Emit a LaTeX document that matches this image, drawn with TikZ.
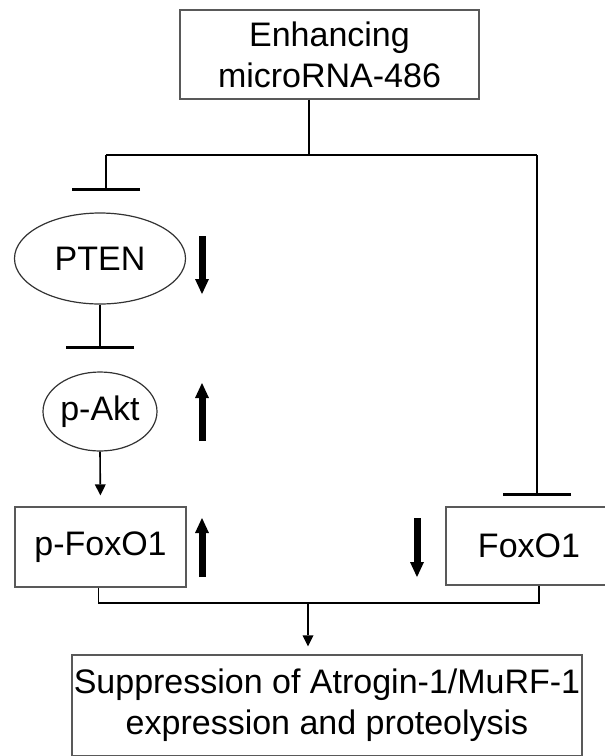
\documentclass[tikz,border=0pt]{standalone}
\usepackage{fontspec}
\setmainfont{Liberation Sans}
\usepackage{tikz}
\usetikzlibrary{arrows.meta,positioning,calc,shapes.geometric}

\begin{document}
\begin{tikzpicture}[
  x=1pt, y=-1pt,
  box/.style={draw=black!65, line width=1.2pt, rectangle, inner sep=0pt,
    font=\fontsize{34}{41}\selectfont, align=center},
  oval/.style={draw=black!80, line width=1.2pt, ellipse, inner sep=0pt,
    font=\fontsize{34}{41}\selectfont},
  link/.style={line width=2.6pt},
  thinlink/.style={line width=1.7pt},
  inhib/.style={line width=2.6pt, -{Bar[width=68pt,line width=2.6pt]}},
  act/.style={line width=1.6pt, -{Triangle[length=11pt,width=11pt,line width=0pt]}},
  trend/.style={line width=7pt, -{Triangle[length=15pt,width=14pt,line width=0pt]}}
]
\useasboundingbox (0,0) rectangle (605,756);
% nodes
\node[box, minimum width=299pt, minimum height=89pt] (mir) at (329.5,54.5) {Enhancing\\microRNA-486};
\node[oval, minimum width=171pt, minimum height=91pt] (pten) at (100,258.5) {PTEN};
\node[oval, minimum width=114pt, minimum height=79pt] (pakt) at (100,411.5) {p-Akt};
\node[box, minimum width=171pt, minimum height=80pt] (pfox) at (100.5,547) {p-FoxO1};
\node[box, minimum width=166pt, minimum height=78pt] (fox) at (529,546) {FoxO1};
\node[box, minimum width=510pt, minimum height=101pt] (out) at (327,705.5) {Suppression of Atrogin-1/MuRF-1\\expression and proteolysis};
% junctions
\coordinate (split) at (309,155);
\coordinate (lturn) at (106,155);
\coordinate (rturn) at (537,155);
\coordinate (ptenbar) at (106,191);
\coordinate (aktbar) at (100,349);
\coordinate (foxbar) at (537,496);
\coordinate (merge) at (308,603);
% connectors
\draw[link] (split |- mir.south) -- (split);
\draw[link] (lturn) -- (rturn);
\draw[inhib] (lturn) -- (ptenbar);
\draw[inhib] (rturn) -- (foxbar);
\draw[inhib] (pten.south) -- (aktbar);
\draw[act, shorten >=11pt] (pakt.south) -- (pfox.north);
\draw[thinlink] ([xshift=-2pt]pfox.south) |- (merge) -| ([xshift=10pt]fox.south);
\draw[act, shorten >=8pt] (merge) -- (merge |- out.north);
% trends
\draw[trend] (202,236) -- (202,294);
\draw[trend] (202,441) -- (202,383);
\draw[trend] (202,577) -- (202,518);
\draw[trend] (417,518) -- (417,577);
\end{tikzpicture}
\end{document}
